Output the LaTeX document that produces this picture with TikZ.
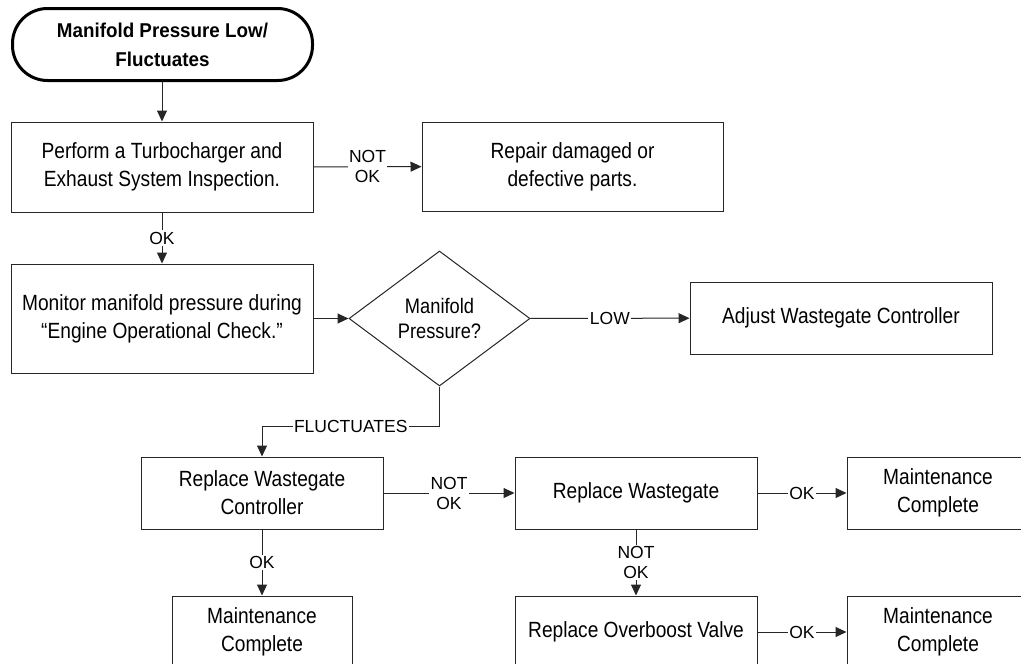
\documentclass[tikz,border=0pt]{standalone}
\usepackage{fontspec}
\setmainfont{Liberation Sans}
\newfontfamily\boxfont{Liberation Sans}[FakeStretch=0.87]
\newfontfamily\titlefont{Liberation Sans}[FakeStretch=0.94]
\usetikzlibrary{arrows.meta,shapes.geometric}
\tikzset{
  box/.style={draw=black!85, line width=1pt, inner sep=0pt, align=center,
    font=\boxfont\fontsize{22}{28}\selectfont},
  lbl/.style={fill=white, inner sep=1.5pt, align=center,
    font=\fontsize{17.5}{20}\selectfont},
  conn/.style={draw=black!85, line width=1pt},
  arr/.style={conn, -{Triangle[length=11pt,width=10pt]}}
}
\begin{document}
\begin{tikzpicture}[x=1pt,y=-1pt]
\useasboundingbox[fill=white] (0,0) rectangle (1021,664);
\clip (0,0) rectangle (1021,664);
% nodes
\node[draw=black, line width=3pt, rounded corners=35pt, minimum width=300pt, minimum height=72pt,
      align=center, font=\titlefont\bfseries\fontsize{20}{29}\selectfont] (start) at (162.5,44.5)
      {Manifold Pressure Low/\\Fluctuates};
\node[box, minimum width=302pt, minimum height=90pt] (b1) at (162,167)
      {Perform a Turbocharger and\\Exhaust System Inspection.};
\node[box, minimum width=301pt, minimum height=89pt] (rep) at (572.5,166.5)
      {Repair damaged or\\defective parts.};
\node[box, minimum width=302pt, minimum height=109pt] (b2) at (162,318.5)
      {Monitor manifold pressure during\\“Engine Operational Check.”};
\node[diamond, draw=black!85, line width=1pt, inner sep=0pt, minimum width=181pt, minimum height=135pt,
      align=center, font=\boxfont\fontsize{21}{25}\selectfont] (dia) at (439.5,318.5)
      {Manifold\\Pressure?};
\node[box, minimum width=302pt, minimum height=72pt] (adj) at (841,318)
      {Adjust Wastegate Controller};
\node[box, minimum width=242pt, minimum height=72pt] (rwc) at (262,493)
      {Replace Wastegate\\Controller};
\node[box, minimum width=242pt, minimum height=72pt] (rw) at (636,493)
      {Replace Wastegate};
\node[box, minimum width=182pt, minimum height=72pt] (mc1) at (938,493)
      {Maintenance\\Complete};
\node[box, minimum width=180pt, minimum height=72pt] (mc0) at (262,632)
      {Maintenance\\Complete};
\node[box, minimum width=242pt, minimum height=72pt] (rov) at (636,632)
      {Replace Overboost Valve};
\node[box, minimum width=182pt, minimum height=72pt] (mc2) at (938,632)
      {Maintenance\\Complete};
% connectors
\draw[arr] (start.south -| b1.north) -- (b1.north);
\draw[arr] (b1) -- node[lbl]{NOT\\OK} (rep);
\draw[arr] (b1) -- node[lbl]{OK} (b2);
\draw[arr] (b2) -- (dia);
\draw[arr] (dia) -- node[lbl]{LOW} (adj);
\coordinate (fk) at (439.5,426);
\draw[arr] (dia.south) -- (fk) -- node[lbl]{FLUCTUATES} (fk -| rwc.north) -- (rwc.north);
\draw[arr] (rwc) -- node[lbl]{NOT\\OK} (rw);
\draw[arr] (rw) -- node[lbl]{OK} (mc1);
\draw[arr] (rwc) -- node[lbl]{OK} (mc0);
\draw[arr] (rw) -- node[lbl]{NOT\\OK} (rov);
\draw[arr] (rov) -- node[lbl]{OK} (mc2);
\end{tikzpicture}
\end{document}
